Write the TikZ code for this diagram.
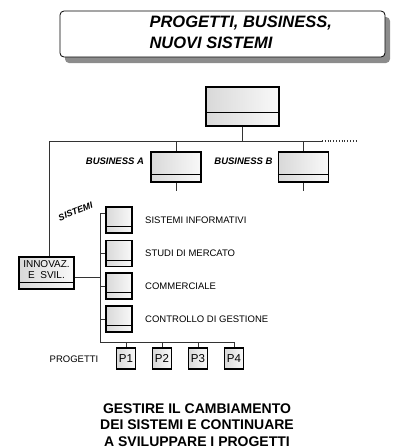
\documentclass[tikz,border=0pt]{standalone}
\usepackage{fontspec}
\setmainfont{Liberation Sans}
\usepackage{tikz}
\usetikzlibrary{shadows}
\tikzstyle{line} = [draw, line width=0.8pt, black!80]
\tikzstyle{unit} = [draw, rectangle, line width=1.4pt, left color=gray!30, right color=gray!5, inner sep=0pt]
\tikzstyle{headbox} = [draw, rectangle, rounded corners=4pt, line width=0.8pt, fill=white, drop shadow={shadow xshift=5pt, shadow yshift=-6pt, fill=black!45, opacity=1}]
\tikzstyle{bizname} = [font=\fontsize{9.5}{11}\selectfont\bfseries\itshape, anchor=east]
\tikzstyle{sistext} = [font=\fontsize{9.5}{11}\selectfont, anchor=west]
\def\splitbox#1#2{\draw[line width=1.4pt] ([yshift=#2]#1.south west) -- ([yshift=#2]#1.south east);}

\begin{document}
\begin{tikzpicture}[x=1pt, y=-1pt]
		\useasboundingbox (0,0) rectangle (393,448);
		\node[headbox, minimum width=325pt, minimum height=46pt] (head) at (222.5,34) {};
		\node[anchor=west, align=left, font=\fontsize{16.5}{21}\selectfont\bfseries\itshape] (headtext) at (146,32.5) {PROGETTI, BUSINESS,\\NUOVI SISTEMI};
	%--------------------
		\node[unit, minimum width=73pt, minimum height=39pt] (top) at (242.5,106.5) {};
		\splitbox{top}{14pt}
		\coordinate (hleft) at (49,141);
		\coordinate (hright) at (322,141);
		\coordinate (hdots) at (358,141);
		\draw[line] (top.south) -- (top.south |- hleft);
		\draw[line] (hleft) -- (hright);
		\draw[line, dotted, line width=1.2pt] (hright) -- (hdots);
	%--------------------
		\node[unit, minimum width=50pt, minimum height=30pt] (bizA) at (176,167) {};
		\splitbox{bizA}{8pt}
		\node[unit, minimum width=50pt, minimum height=30pt] (bizB) at (303.5,167) {};
		\splitbox{bizB}{8pt}
		\draw[line] (bizA.north |- hleft) -- (bizA.north);
		\draw[line] (bizB.north |- hleft) -- (bizB.north);
		\draw[line] (bizA.south) -- ++(0,8);
		\draw[line] (bizB.south) -- ++(0,8);
		\node[bizname] (nameA) at (147.5,161.5) {BUSINESS A};
		\node[bizname] (nameB) at (276,161.5) {BUSINESS B};
	%--------------------
		\node[unit, minimum width=55pt, minimum height=32pt] (innov) at (46.5,273) {};
		\splitbox{innov}{7.5pt}
		\node[align=center, font=\fontsize{10}{11}\selectfont] (innovtext) at (46.5,270) {INNOVAZ.\\E\ \ SVIL.};
		\draw[line] (hleft) -- (hleft |- innov.north);
		\node[rotate=22, inner sep=0pt, font=\fontsize{9}{10}\selectfont\bfseries\itshape] (sist) at (75.5,211.5) {SISTEMI};
	%--------------------
		\node[unit, minimum width=26pt, minimum height=26pt] (s1) at (119,220) {};
		\node[unit, minimum width=26pt, minimum height=26pt] (s2) at (119,253.5) {};
		\node[unit, minimum width=26pt, minimum height=26pt] (s3) at (119,286) {};
		\node[unit, minimum width=26pt, minimum height=26pt] (s4) at (119,319) {};
		\splitbox{s1}{7pt}
		\splitbox{s2}{7pt}
		\splitbox{s3}{7pt}
		\splitbox{s4}{7pt}
		\node[sistext] (t1) at ([xshift=9pt]s1.east) {SISTEMI INFORMATIVI};
		\node[sistext] (t2) at ([xshift=9pt]s2.east) {STUDI DI MERCATO};
		\node[sistext] (t3) at ([xshift=9pt]s3.east) {COMMERCIALE};
		\node[sistext] (t4) at ([xshift=9pt]s4.east) {CONTROLLO DI GESTIONE};
		\coordinate (bustop) at (100,213);
		\coordinate (busend) at (100,342);
		\coordinate (pend) at (234,342);
		\draw[line] (bustop) -- (busend) -- (pend);
		\draw[line] (bustop) -- (bustop -| s1.west);
		\draw[line] (s2.west -| bustop) -- (s2.west);
		\draw[line] (s3.west -| bustop) -- (s3.west);
		\draw[line] (s4.west -| bustop) -- (s4.west);
		\draw[line] ([yshift=-4pt]innov.east) -- ([yshift=-4pt]innov.east -| bustop);
	%--------------------
		\node[font=\fontsize{9.5}{11}\selectfont] (prog) at (74,359) {PROGETTI};
		\node[unit, minimum width=19pt, minimum height=21pt, font=\fontsize{11.5}{13}\selectfont] (p1) at (126,358.5) {P1};
		\node[unit, minimum width=19pt, minimum height=21pt, font=\fontsize{11.5}{13}\selectfont] (p2) at (162,358.5) {P2};
		\node[unit, minimum width=19pt, minimum height=21pt, font=\fontsize{11.5}{13}\selectfont] (p3) at (198,358.5) {P3};
		\node[unit, minimum width=19pt, minimum height=21pt, font=\fontsize{11.5}{13}\selectfont] (p4) at (234,358.5) {P4};
		\draw[line] (p1.north |- busend) -- (p1.north);
		\draw[line] (p2.north |- busend) -- (p2.north);
		\draw[line] (p3.north |- busend) -- (p3.north);
		\draw[line] (pend) -- (p4.north);
	%--------------------
		\node[align=center, font=\fontsize{14}{16.5}\selectfont\bfseries] (goal) at (197,425) {GESTIRE IL CAMBIAMENTO\\DEI SISTEMI E CONTINUARE\\A SVILUPPARE I PROGETTI};
	\end{tikzpicture}
\end{document}
